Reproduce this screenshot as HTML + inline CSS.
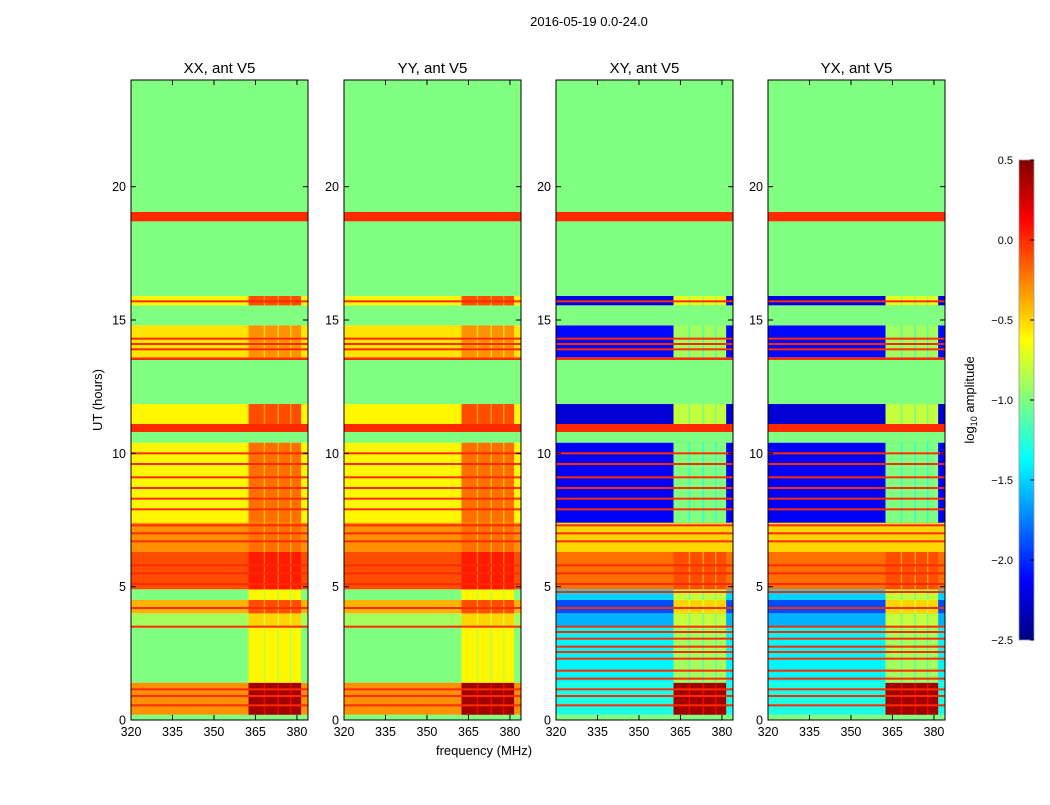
<!DOCTYPE html>
<html><head><meta charset="utf-8"><style>
body{margin:0;background:#fff;font-family:"Liberation Sans",sans-serif}
</style></head><body>
<svg id="fig" width="1050" height="800" xmlns="http://www.w3.org/2000/svg" font-family="Liberation Sans, sans-serif">
<defs><linearGradient id="jet" x1="0" y1="1" x2="0" y2="0">
<stop offset="0" stop-color="#00007f"/><stop offset="0.125" stop-color="#0000ff"/><stop offset="0.375" stop-color="#00ffff"/><stop offset="0.5" stop-color="#7fff7f"/><stop offset="0.625" stop-color="#ffff00"/><stop offset="0.875" stop-color="#ff0000"/><stop offset="1" stop-color="#7f0000"/></linearGradient></defs>
<text x="589" y="26" font-size="13" text-anchor="middle">2016-05-19 0.0-24.0</text>
<g id="panels"></g>
<text transform="translate(102,400) rotate(-90)" font-size="13" text-anchor="middle">UT (hours)</text>
<text x="484" y="755" font-size="13" text-anchor="middle">frequency (MHz)</text>
<rect x="1019" y="160" width="15" height="480" fill="url(#jet)" stroke="#999" stroke-width="0.8"/>
<g id="cbticks"></g>
<text transform="translate(974,400) rotate(-90)" font-size="13" text-anchor="middle">log<tspan font-size="9" dy="3">10</tspan><tspan dy="-3"> amplitude</tspan></text>
</svg>
<script>
const panelTitles=["XX, ant V5","YY, ant V5","XY, ant V5","YX, ant V5"];
const panelLeft=[131,344,556,768];
const xTicks=[320,335,350,365,380];
const yTicks=[0,5,10,15,20];
const cbTicks=[0.5,0.0,-0.5,-1.0,-1.5,-2.0,-2.5];
const rowStart=[0,0.2,1.4,3.5,4.0,4.5,4.9,6.3,7.4,10.4,10.8,11.1,11.85,13.5,13.6,14.8,15.55,15.9,18.7,19.05];
const rowEnd  =[0.2,1.4,3.5,4.0,4.5,4.9,6.3,7.4,10.4,10.8,11.1,11.85,13.5,13.6,14.8,15.55,15.9,18.7,19.05,24];
const parLow  =[-1,-0.3,-1.0,-0.9,-0.4,-1.0,-0.1,-0.3,-0.6,-1,0,-0.6,-1,0,-0.55,-1,-0.6,-1,0,-1];
const parHigh =[-1,0.4,-0.6,-0.5,-0.1,-0.6,0.05,-0.2,-0.2,-1,0,-0.1,-1,0,-0.3,-1,-0.1,-1,0,-1];
const crossLow=[-1,-1.3,-1.4,-1.6,-1.9,-1.5,-0.2,-0.5,-2.15,-1,0,-2.25,-1,0,-2.1,-1,-2.2,-1,0,-1];
const crossHigh=[-1,0.4,-0.9,-0.8,-0.5,-0.8,-0.1,-0.5,-1.0,-1,0,-0.8,-1,0,-0.9,-1,-0.7,-1,0,-1];
const lineHours=[0.55,0.9,1.15,1.55,1.85,2.3,2.55,2.75,3.05,3.3,3.5,4.2,4.8,5.1,5.5,5.8,6.7,7.0,7.3,7.9,8.3,8.7,9.1,9.6,10.0,13.9,14.1,14.3,15.7,18.85];
const highBandStart=[362.5,368.5,373.5,378];
const highBandEnd=[368,373,377.5,381.5];
const fMin=320,fMax=384,tMin=0,tMax=24,vMin=-2.5,vMax=0.5;
const pw=177,plotTop=80,plotBot=720;
function jet(v){let t=(v-vMin)/(vMax-vMin);t=Math.max(0,Math.min(1,t));
 const c=x=>Math.round(255*Math.max(0,Math.min(1,1.5-Math.abs(4*t-x))));
 return `rgb(${c(3)},${c(2)},${c(1)})`;}
const NS="http://www.w3.org/2000/svg";
const G=document.getElementById('panels');
function mk(tag,at,parent){const e=document.createElementNS(NS,tag);for(const k in at)e.setAttribute(k,at[k]);parent.appendChild(e);return e;}
for(let p=0;p<4;p++){
 const L=panelLeft[p];
 const xs=f=>L+(f-fMin)/(fMax-fMin)*pw;
 const ys=h=>plotBot-(h-tMin)/(tMax-tMin)*(plotBot-plotTop);
 const g=mk('g',{},G);
 
 
 const low=p<2?parLow:crossLow, high=p<2?parHigh:crossHigh;
 for(let r=0;r<rowStart.length;r++){
  const y0=ys(rowEnd[r]),h=ys(rowStart[r])-y0;
  const a=mk('rect',{x:L,y:y0,width:pw,height:h,fill:jet(low[r])},g);
  
  
  if(low[r]===high[r])continue;
  const gp=mk('rect',{x:xs(highBandStart[0]),y:y0,width:xs(highBandEnd[highBandEnd.length-1])-xs(highBandStart[0]),height:h,fill:jet(high[r]-0.25)},g);
  
  
  for(let b=0;b<highBandStart.length;b++){
   const c=mk('rect',{x:xs(highBandStart[b]),y:y0,width:xs(highBandEnd[b])-xs(highBandStart[b]),height:h,fill:jet(high[r])},g);
   
   
  }
 }
 for(const lh of lineHours){
  const inData=rowStart.some((s,i)=>lh>=s&&lh<rowEnd[i]&&low[i]!==-1);
  if(!inData)continue;
  const l=mk('rect',{x:L,y:ys(lh)-1,width:pw,height:2,fill:jet(0)},g);
  
  
 }
 const fr=mk('rect',{x:L,y:plotTop,width:pw,height:plotBot-plotTop,fill:'none',stroke:'#000','stroke-width':1},g);
 
 
 const tt=mk('text',{x:L+pw/2,y:73,'font-size':15,'text-anchor':'middle'},g);tt.textContent=panelTitles[p];
 
 
 for(const f of xTicks){const x=xs(f);
  mk('line',{x1:x,x2:x,y1:plotBot,y2:plotBot-5,stroke:'#000'},g);mk('line',{x1:x,x2:x,y1:plotTop,y2:plotTop+5,stroke:'#000'},g);
  const t=mk('text',{x:x,y:plotBot+16,'font-size':12.5,'text-anchor':'middle'},g);t.textContent=f;
  
  }
 for(const h of yTicks){const y=ys(h);
  mk('line',{x1:L,x2:L+5,y1:y,y2:y,stroke:'#000'},g);mk('line',{x1:L+pw,x2:L+pw-5,y1:y,y2:y,stroke:'#000'},g);
  const t=mk('text',{x:L-5,y:y+4.5,'font-size':12.5,'text-anchor':'end'},g);t.textContent=h;
  
  }
}
const cb=document.getElementById('cbticks');
for(const v of cbTicks){const y=640-(v-vMin)/(vMax-vMin)*480;
 mk('line',{x1:1030,x2:1034,y1:y,y2:y,stroke:'#000'},cb);
 const t=mk('text',{x:1013,y:y+4,'font-size':11,'text-anchor':'end'},cb);t.textContent=(v<0?'\u2212':'')+Math.abs(v).toFixed(1);
 
 }
</script>
</body></html>
